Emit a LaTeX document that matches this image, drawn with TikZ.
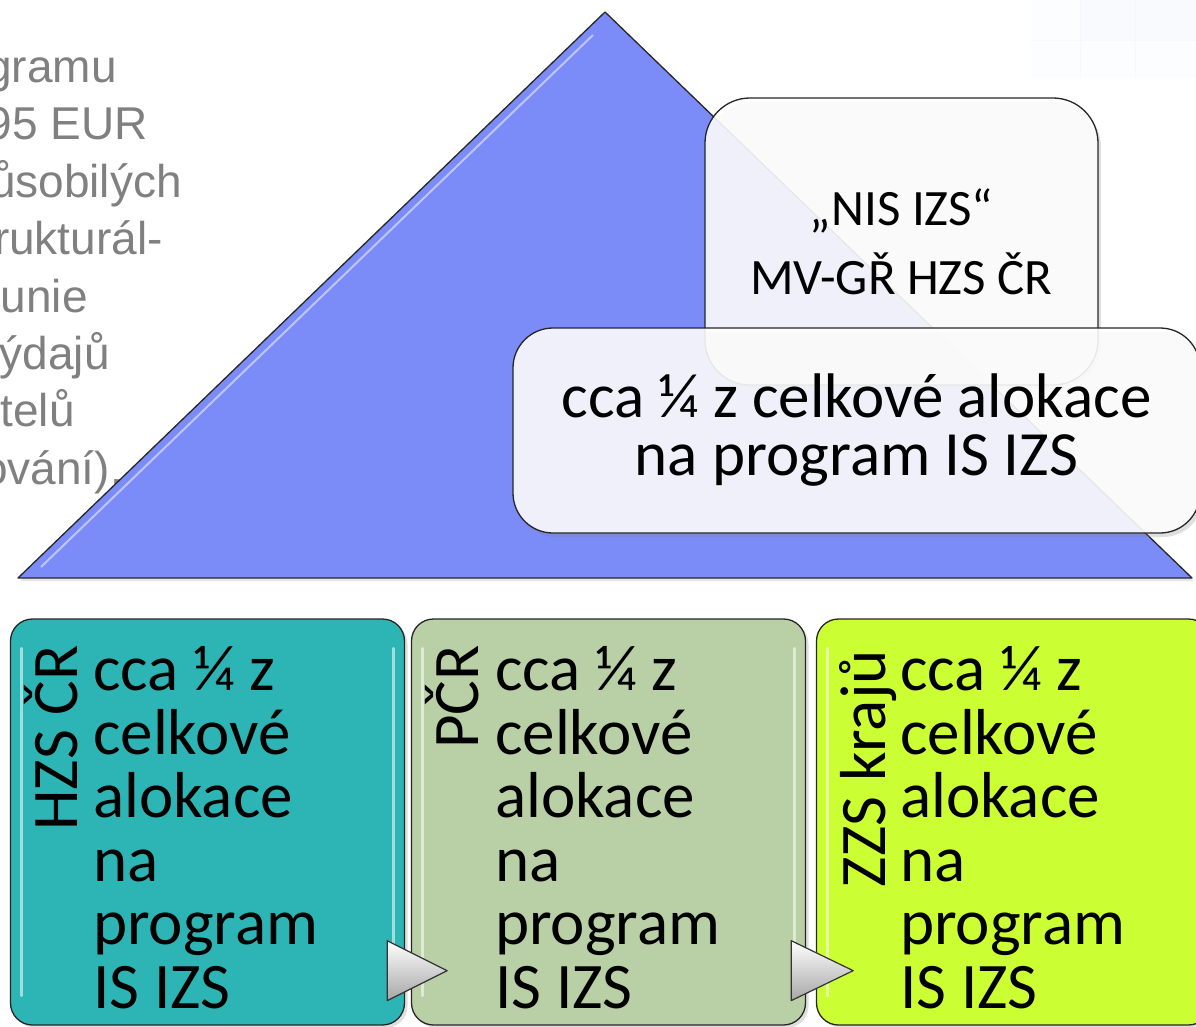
\documentclass[tikz,border=0pt]{standalone}
\usepackage{fontspec}
\setmainfont{Carlito}
\newfontfamily\grayfont{Liberation Sans}
\usetikzlibrary{shadows,calc}
\definecolor{trifill}{RGB}{123,139,248}
\definecolor{tealbox}{RGB}{45,181,181}
\definecolor{sagebox}{RGB}{185,207,165}
\definecolor{limebox}{RGB}{204,255,51}
\definecolor{txtgray}{RGB}{128,128,128}
\tikzset{
  glassbox/.style={draw=black!85, line width=1.3pt, fill=white, fill opacity=0.88, text opacity=1,
    drop shadow={shadow xshift=3pt, shadow yshift=-4pt, opacity=0.25}},
  colbox/.style={draw=black!85, line width=1.3pt, rounded corners=22pt, minimum width=394pt,
    minimum height=406pt, drop shadow={shadow xshift=3pt, shadow yshift=-3pt, opacity=0.25}},
  bodytext/.style={anchor=base west, inner sep=0pt, align=left, font=\fontsize{65}{63.5}\selectfont},
  sidelabel/.style={anchor=base east, rotate=90, inner sep=0pt, font=\fontsize{65}{65}\selectfont},
  graytext/.style={anchor=base east, inner sep=0pt, text=txtgray, font=\grayfont\fontsize{46}{46}\selectfont},
  arrowtri/.style={draw=black!80, line width=1.2pt, top color=white, bottom color=black!35, line join=round},
  gloss/.style={white, line width=3pt, opacity=0.55, line cap=round}
}
\begin{document}
\begin{tikzpicture}[x=1pt,y=-1pt]
\useasboundingbox (0,0) rectangle (1196,1027);
% faint background decoration top right
\fill[cyan!40!blue, opacity=0.015] (1030,0) rectangle (1196,78);
\fill[cyan!40!blue, opacity=0.015] (1080,0) rectangle (1196,40);
\draw[cyan!30!blue, opacity=0.025] (1080,0) -- (1080,78) (1135,0) -- (1135,78) (1030,40) -- (1196,40);

% gray cut-off text on the left
\node[graytext] (g1) at (117,83) {gramu};
\node[graytext] (g2) at (148,140) {95 EUR};
\node[graytext] (g3) at (182,197) {ůsobilých};
\node[graytext] (g4) at (163,254) {rukturál-};
\node[graytext] (g5) at (88,312) {unie};
\node[graytext] (g6) at (110,369) {ýdajů};
\node[graytext] (g7) at (75,426) {telů};
\node[graytext] (g8) at (123,484) {ování).};

% triangle
\coordinate (apex) at (605,12);
\coordinate (bl) at (18,578);
\coordinate (br) at (1192,578);
\filldraw[fill=trifill, draw=black!85, line width=1.3pt, line join=round,
  drop shadow={shadow xshift=2pt, shadow yshift=-3pt, opacity=0.2}] (bl) -- (apex) -- (br) -- cycle;
\draw[white, opacity=0.5, line width=2pt] (41,567) -- (593,35);

% upper right boxes
\node[glassbox, rounded corners=45pt, minimum width=393pt, minimum height=287pt, align=center,
  font=\fontsize{51}{69}\selectfont] (nis) at (901.5,241.5) {„NIS IZS“\\MV-GŘ HZS ČR};
\node[glassbox, rounded corners=40pt, minimum width=687pt, minimum height=205pt, align=center,
  font=\fontsize{63}{58}\selectfont] (alloc) at (856.5,430.5) {cca ¼ z celkové alokace\\na program IS IZS};

% bottom boxes
\node[colbox, fill=tealbox] (hzs) at (207.5,822) {};
\node[colbox, fill=sagebox] (pcr) at (608.5,822) {};
\node[colbox, fill=limebox] (zzs) at (1013.5,822) {};
\foreach \b in {hzs,pcr,zzs}{
  \draw[gloss] ($(\b.north west)+(12,30)$) -- ($(\b.south west)+(12,-30)$);
  \draw[gloss] ($(\b.north east)+(-12,30)$) -- ($(\b.south east)+(-12,-30)$);
}

% arrows between boxes
\draw[arrowtri] ($(hzs.south east)+(-18,-85)$) coordinate (a1) -- ++(60,30) -- ++(-60,30) -- cycle;
\draw[arrowtri] ($(pcr.south east)+(-15,-85)$) coordinate (a2) -- ++(62,30) -- ++(-62,30) -- cycle;

% side labels
\node[sidelabel] (lhzs) at (77,645) {HZS ČR};
\node[sidelabel] (lpcr) at (478,645) {PČR};
\node[sidelabel] (lzzs) at (885,650) {ZZS krajů};

% body text (base anchor = last line)
\node[bodytext] (thzs) at (93,1008) {cca ¼ z\\celkové\\alokace\\na\\program\\IS IZS};
\node[bodytext] (tpcr) at (495,1008) {cca ¼ z\\celkové\\alokace\\na\\program\\IS IZS};
\node[bodytext] (tzzs) at (900,1008) {cca ¼ z\\celkové\\alokace\\na\\program\\IS IZS};
\end{tikzpicture}
\end{document}
